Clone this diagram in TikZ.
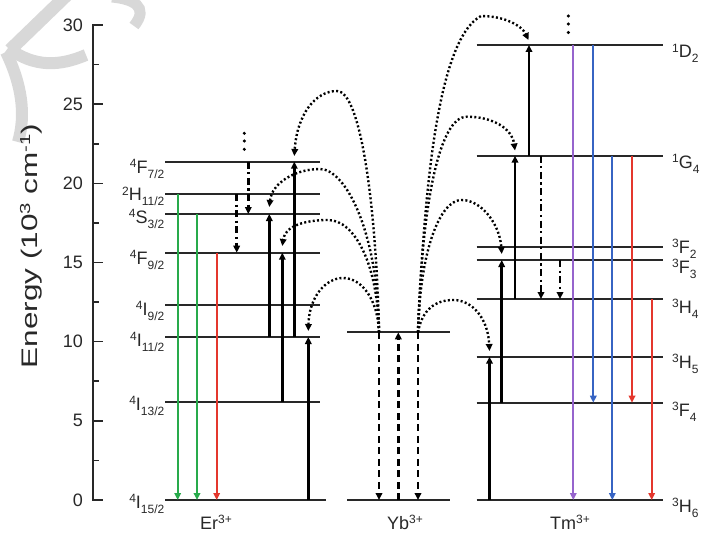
\documentclass[tikz,border=0pt]{standalone}
\usepackage{fontspec}
\setmainfont{Liberation Sans}
\usetikzlibrary{arrows.meta}
\definecolor{cgreen}{RGB}{40,170,75}
\definecolor{cred}{RGB}{228,55,45}
\definecolor{cblue}{RGB}{55,100,195}
\definecolor{cpurple}{RGB}{150,100,205}
\definecolor{lvl}{RGB}{40,40,40}
\definecolor{wm}{RGB}{216,216,216}
\newcommand\lsup[1]{\raisebox{5.2pt}{\fontsize{12}{12}\selectfont #1}}
\newcommand\lsub[1]{\raisebox{-5pt}{\fontsize{12}{12}\selectfont #1}}
\newcommand\term[3]{\lsup{#1}#2\lsub{#3}}
\begin{document}
\begin{tikzpicture}[x=1pt,y=-1pt,
  lev/.style={draw=lvl, line width=2pt},
  tip/.style={-{Triangle[length=7pt,width=6.5pt]}},
  upar/.style={tip, line width=2.8pt, draw=black},
  emit/.style={tip, line width=2.3pt},
  etr/.style={tip, line width=2.4pt, dash pattern=on 2pt off 2.3pt},
  nrad/.style={tip, line width=2.6pt, dash pattern=on 7pt off 3.5pt on 2.2pt off 3.5pt},
  ybd/.style={tip, line width=2.8pt, dash pattern=on 7pt off 4.5pt},
  lbl/.style={inner sep=0, text=lvl, font=\fontsize{18}{18}\selectfont},
  wmk/.style={draw=wm, line width=13pt},
  vdot/.style={fill=black, draw=none}
]
\useasboundingbox (0,0) rectangle (703,532);
% watermark
\draw[wmk] (70,-8) -- (10,50);
\draw[wmk, line width=12pt] (8,48) .. controls (35,68) and (60,66) .. (86,55);
\draw[wmk, line width=12pt] (6,52) .. controls (22,85) and (26,115) .. (18,142);
\draw[wmk, line width=11pt] (112,-3) .. controls (132,-1) and (150,6) .. (134,26);
% axis
\draw[draw=lvl, line width=1.6pt] (93,25) -- (93,500);
\foreach \v in {0,5,...,30}{
  \draw[draw=lvl, line width=1.6pt] (92.2,{500-15.8333*\v}) -- (103,{500-15.8333*\v});
  \node[lbl, anchor=east] (t\v) at (83,{500-15.8333*\v}) {\v};
}
\foreach \v in {2.5,7.5,12.5,17.5,22.5,27.5}{
  \draw[draw=lvl, line width=1.6pt] (92.2,{500-15.8333*\v}) -- (99,{500-15.8333*\v});
}
\node[rotate=90, anchor=base, inner sep=0, text=lvl, font=\fontsize{22.5}{22}\selectfont] (ylab) at (37,246)
  {\scalebox{1.4}[1]{Energy (10\raisebox{7pt}{\fontsize{14.5}{14}\selectfont 3} cm\raisebox{7pt}{\fontsize{14.5}{14}\selectfont -1})}};
% ---------- Er levels
\foreach \y in {161.7,194,214,252.7,305,337,402}{ \draw[lev] (165,\y) -- (320,\y); }
\draw[lev] (165,500) -- (326,500);
\node[lbl, anchor=base east] (erA) at (164.5,173) {\term{4}{F}{7/2}};
\node[lbl, anchor=base east] (erB) at (164.5,200.5) {\term{2}{H}{11/2}};
\node[lbl, anchor=base east] (erC) at (164.5,223) {\term{4}{S}{3/2}};
\node[lbl, anchor=base east] (erD) at (164.5,264) {\term{4}{F}{9/2}};
\node[lbl, anchor=base east] (erE) at (164.5,315) {\term{4}{I}{9/2}};
\node[lbl, anchor=base east] (erF) at (164.5,346) {\term{4}{I}{11/2}};
\node[lbl, anchor=base east] (erG) at (164.5,410) {\term{4}{I}{13/2}};
\node[lbl, anchor=base east] (erH) at (164.5,508) {\term{4}{I}{15/2}};
% ---------- Yb levels
\draw[lev] (347,332.3) -- (450,332.3);
\draw[lev] (347,500) -- (450,500);
% ---------- Tm levels
\foreach \y in {45,155.7,246.7,260,299,356.7,402.7,500}{ \draw[lev] (476.7,\y) -- (663.3,\y); }
\node[lbl, anchor=base west] (tmA) at (672,58) {\lsup{1}D\lsub{2}};
\node[lbl, anchor=base west] (tmB) at (672,168) {\lsup{1}G\lsub{4}};
\node[lbl, anchor=base west] (tmC) at (672,253) {\lsup{3}F\lsub{2}};
\node[lbl, anchor=base west] (tmD) at (672,273) {\lsup{3}F\lsub{3}};
\node[lbl, anchor=base west] (tmE) at (672,313) {\lsup{3}H\lsub{4}};
\node[lbl, anchor=base west] (tmF) at (672,368) {\lsup{3}H\lsub{5}};
\node[lbl, anchor=base west] (tmG) at (672,416) {\lsup{3}F\lsub{4}};
\node[lbl, anchor=base west] (tmH) at (672,512) {\lsup{3}H\lsub{6}};
% species
\node[lbl, anchor=base] (er) at (216,529) {Er\lsup{3+}};
\node[lbl, anchor=base] (yb) at (405,529) {Yb\lsup{3+}};
\node[lbl, anchor=base] (tm) at (570,529) {Tm\lsup{3+}};
% ---------- Yb arrows
\coordinate (ybL) at (379,332.3);
\coordinate (ybR) at (418,332.3);
\draw[ybd] (ybL) -- (379,500);
\draw[ybd] (398.3,500) -- (398.3,332.3);
\draw[ybd] (ybR) -- (418,500);
% ---------- Er transitions
\draw[emit, draw=cgreen] (177.7,194) -- (177.7,500);
\draw[emit, draw=cgreen] (197,214) -- (197,500);
\draw[emit, draw=cred] (216.7,252.7) -- (216.7,500);
\draw[nrad] (236.7,194) -- (236.7,252.7);
\draw[nrad] (248.3,161.7) -- (248.3,214);
\foreach \y in {133.3,141,149.3}{ \fill[vdot] (244.3,\y) circle (1.7pt); }
\draw[upar] (269.3,337) -- (269.3,214);
\draw[upar] (282.3,402) -- (282.3,252.7);
\draw[upar] (294.3,337) -- (294.3,161.7);
\draw[upar] (308.3,500) -- (308.3,337);
\coordinate (pE1) at (337,91);
\coordinate (pE2) at (320,169);
\coordinate (pE3) at (328,220);
\coordinate (pE4) at (343,278);
\draw[etr] (ybL) .. controls (376,200) and (360,91) .. (pE1) .. controls (315,91) and (297,115) .. (294.3,156);
\draw[etr] (ybL) .. controls (378,230) and (345,169) .. (pE2) .. controls (295,169) and (272,183) .. (269.3,207);
\draw[etr] (ybL) .. controls (378,265) and (355,220) .. (pE3) .. controls (305,220) and (285,226) .. (282.3,246);
\draw[etr] (ybL) .. controls (378,300) and (362,278) .. (pE4) .. controls (325,278) and (309,298) .. (308.3,331);
% ---------- Tm transitions
\draw[upar] (489.5,500) -- (489.5,356.7);
\draw[upar] (501.7,402.7) -- (501.7,260);
\draw[upar] (515,299) -- (515,155.7);
\draw[upar] (529,155.7) -- (529,45);
\draw[nrad] (541,155.7) -- (541,299);
\draw[nrad] (560,260) -- (560,299);
\foreach \y in {16,24,32.5}{ \fill[vdot] (568.3,\y) circle (1.7pt); }
\draw[emit, draw=cpurple] (573.3,45) -- (573.3,500);
\draw[emit, draw=cblue] (593.3,45) -- (593.3,402.7);
\draw[emit, draw=cblue] (612.3,155.7) -- (612.3,500);
\draw[emit, draw=cred] (632,155.7) -- (632,402.7);
\draw[emit, draw=cred] (651.7,299) -- (651.7,500);
\coordinate (pT1) at (481,16);
\coordinate (pT2) at (466.7,116.7);
\coordinate (pT3) at (461.7,200);
\coordinate (pT4) at (453.3,300);
\draw[etr] (ybR) .. controls (424,200) and (436,40) .. (pT1) .. controls (505,16) and (522,26) .. (528.5,40);
\draw[etr] (ybR) .. controls (422,200) and (440,116.7) .. (pT2) .. controls (492,116.7) and (512,128) .. (515,150.5);
\draw[etr] (ybR) .. controls (420,250) and (440,200) .. (pT3) .. controls (482,200) and (500,225) .. (501.7,254);
\draw[etr] (ybR) .. controls (422,310) and (435,300) .. (pT4) .. controls (472,300) and (488,318) .. (489.5,351);
\end{tikzpicture}
\end{document}
